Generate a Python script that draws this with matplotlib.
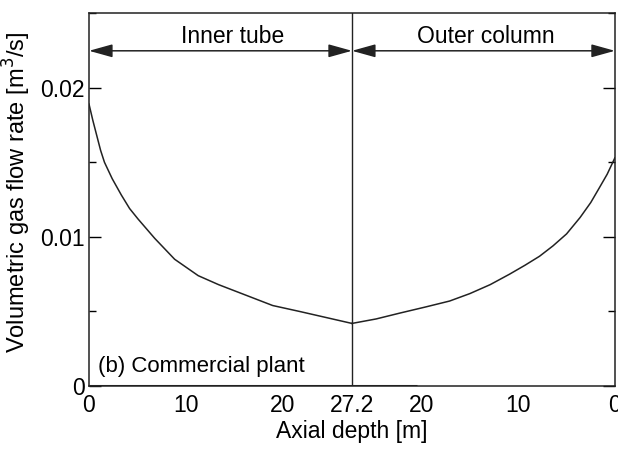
import matplotlib
matplotlib.use("Agg")
import matplotlib.pyplot as plt
from matplotlib.patches import FancyArrowPatch
from matplotlib.ticker import MultipleLocator

plt.rcParams['font.family'] = ['Liberation Sans', 'DejaVu Sans']

TUBE_LENGTH = 27.2

# inner tube: depth [m] -> gas flow [m3/s]
inner_depth = [0.0, 0.4, 0.8, 1.2, 1.6, 2.4, 3.35, 4.2, 5.07, 6.8, 8.86, 11.3, 13.4, 16.6, 19.0, 21.8, 24.5, 27.2]
inner_flow = [0.0189, 0.0178, 0.0168, 0.0158, 0.0150, 0.0139, 0.0128, 0.0119, 0.0112, 0.0099,
              0.0085, 0.0074, 0.0068, 0.0060, 0.0054, 0.0050, 0.0046, 0.0042]

# outer column: depth [m] -> gas flow [m3/s]
outer_depth = [27.2, 24.7, 22.2, 19.6, 17.1, 15.0, 12.9, 10.9, 9.3, 7.8, 6.4, 5.0, 3.6, 2.5, 1.6, 0.8, 0.0]
outer_flow = [0.0042, 0.0045, 0.0049, 0.0053, 0.0057, 0.0062, 0.0068, 0.0075, 0.0081, 0.0087,
              0.0094, 0.0102, 0.0113, 0.0123, 0.0133, 0.0142, 0.0153]

# second series lying on zero
zero_depth_inner = [0.0, 27.2]
zero_depth_outer = [27.2, 20.5]
zero_flow = [0.0, 0.0]

xtick_labels = ["0", "10", "20", "27.2", "20", "10", "0"]
xtick_depths = [0, 10, 20, 27.2, 20, 10, 0]


def outer_pos(d):
    return [2 * TUBE_LENGTH - v for v in d]


fig = plt.figure(figsize=(6.18, 4.5), dpi=100)
ax = fig.add_axes([0.144, 0.142, 0.851, 0.829])

ax.plot(inner_depth, inner_flow, color="#222222", lw=1.1)
ax.plot(outer_pos(outer_depth), outer_flow, color="#222222", lw=1.1)
ax.plot(zero_depth_inner, zero_flow, color="#222222", lw=2.2, solid_capstyle="butt")
ax.plot(outer_pos(zero_depth_outer), zero_flow, color="#222222", lw=2.2, solid_capstyle="butt")
ax.axvline(TUBE_LENGTH, color="#222222", lw=1.0)

ax.set_xlim(0, 2 * TUBE_LENGTH)
ax.set_ylim(0, 0.025)

xt = [d if i <= 3 else 2 * TUBE_LENGTH - d for i, d in enumerate(xtick_depths)]
ax.set_xticks(xt)
ax.set_xticklabels(xtick_labels)
ax.set_yticks([0, 0.01, 0.02])
ax.set_yticklabels(["0", "0.01", "0.02"])
ax.yaxis.set_minor_locator(MultipleLocator(0.005))
ax.tick_params(axis="x", length=0, pad=6, labelsize=16.5)
ax.tick_params(axis="y", which="major", direction="in", length=8.5, width=1,
               right=True, pad=3, labelsize=16.5)
ax.tick_params(axis="y", which="minor", direction="in", length=5, width=1, right=True)
for s in ax.spines.values():
    s.set_linewidth(1.1)
    s.set_color("#222222")

ax.set_xlabel("Axial depth [m]", fontsize=16.5, labelpad=2)
ax.set_ylabel("Volumetric gas flow rate [m$^3$/s]", fontsize=17)
ax.yaxis.set_label_coords(-0.106, 0.52)

arrow_y = 0.02247
for a, b in [(0, TUBE_LENGTH), (TUBE_LENGTH, 2 * TUBE_LENGTH)]:
    ax.add_patch(FancyArrowPatch((a, arrow_y), (b, arrow_y),
                                 arrowstyle="<|-|>,head_length=0.72,head_width=0.2",
                                 mutation_scale=20, shrinkA=0, shrinkB=0,
                                 color="#222222", lw=1.1))
ax.text(14.9, 0.0234, "Inner tube", fontsize=16.5, ha="center", va="center")
ax.text(41.0, 0.0234, "Outer column", fontsize=16.5, ha="center", va="center")
ax.text(0.9, 0.0006, "(b) Commercial plant", fontsize=16, ha="left", va="bottom")

fig.savefig("out.png", dpi=100)
